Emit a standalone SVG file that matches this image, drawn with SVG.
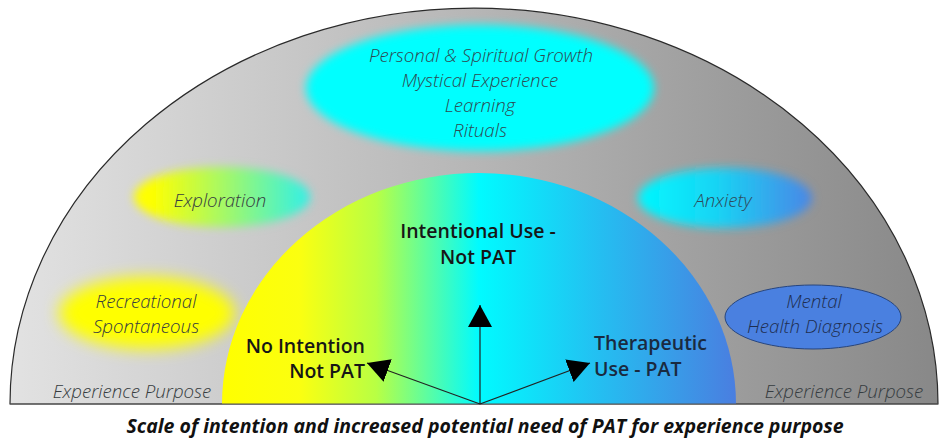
<svg xmlns="http://www.w3.org/2000/svg" width="941" height="442" viewBox="0 0 941 442">
<defs>
<style>
.lt{font-family:"Open Sans","Liberation Sans",sans-serif;font-style:italic;font-weight:300;font-size:18.7px;fill:#363c40;text-anchor:middle}
.bd{font-family:"Open Sans","Liberation Sans",sans-serif;font-weight:600;font-size:19.5px;fill:#161616}
.cap{font-family:"Open Sans","Liberation Sans",sans-serif;font-style:italic;font-weight:700;font-size:19.5px;fill:#111;text-anchor:middle}
.conn{stroke:#222;stroke-width:1.2;fill:none;marker-end:url(#ah)}
</style>
<linearGradient id="gOuter" x1="10" y1="0" x2="938" y2="0" gradientUnits="userSpaceOnUse">
<stop offset="0" stop-color="#e2e2e2"/>
<stop offset="0.5" stop-color="#b6b6b6"/>
<stop offset="1" stop-color="#888888"/>
</linearGradient>
<linearGradient id="gInner" x1="222" y1="0" x2="736" y2="0" gradientUnits="userSpaceOnUse">
<stop offset="0" stop-color="#ffff00"/>
<stop offset="0.15" stop-color="#fbff10"/>
<stop offset="0.3" stop-color="#b8ff44"/>
<stop offset="0.5" stop-color="#00fbff"/>
<stop offset="0.72" stop-color="#22c2f2"/>
<stop offset="1" stop-color="#4a7ee0"/>
</linearGradient>
<linearGradient id="gExpl" x1="0" y1="0" x2="1" y2="0">
<stop offset="0.1" stop-color="#ffff00"/>
<stop offset="0.55" stop-color="#9cf870"/>
<stop offset="1" stop-color="#30f0e8"/>
</linearGradient>
<linearGradient id="gAnx" x1="0" y1="0" x2="1" y2="0">
<stop offset="0" stop-color="#00f8ff"/>
<stop offset="0.45" stop-color="#18d4f4"/>
<stop offset="1" stop-color="#4a86e6"/>
</linearGradient>
<filter id="blur" x="-20%" y="-30%" width="140%" height="160%"><feGaussianBlur stdDeviation="5"/></filter>
<filter id="blur2" x="-20%" y="-40%" width="140%" height="180%"><feGaussianBlur stdDeviation="8"/></filter>
<marker id="ah" viewBox="0 0 22 24" refX="22" refY="12" markerWidth="22" markerHeight="24" markerUnits="userSpaceOnUse" orient="auto">
<path d="M0,0 L22,12 L0,24 Z" fill="#000"/>
</marker>
</defs>

<g id="outer">
<path d="M10,404 A464,396 0 0 1 938,404 Z" fill="url(#gOuter)" stroke="#2a2a2a" stroke-width="1.2"/>
</g>

<g id="inner">
<path d="M222,404 A257,231 0 0 1 736,404 Z" fill="url(#gInner)"/>
</g>
<line x1="10" y1="404" x2="938" y2="404" stroke="#555" stroke-width="1.2"/>

<g id="growth">
<ellipse cx="480" cy="88" rx="174" ry="63" fill="#00ffff" filter="url(#blur)"/>
<text class="lt" x="481" y="62" style="fill:#2e4a52">Personal &amp; Spiritual Growth</text>
<text class="lt" x="480" y="87" style="fill:#2e4a52">Mystical Experience</text>
<text class="lt" x="480" y="112" style="fill:#2e4a52">Learning</text>
<text class="lt" x="480" y="137" style="fill:#2e4a52">Rituals</text>
</g>

<g id="exploration">
<ellipse cx="222" cy="197" rx="88" ry="30" fill="url(#gExpl)" filter="url(#blur)"/>
<text class="lt" x="220" y="207">Exploration</text>
</g>

<g id="anxiety">
<ellipse cx="725" cy="198" rx="87" ry="30" fill="url(#gAnx)" filter="url(#blur)"/>
<text class="lt" x="723" y="207" style="fill:#2e4a5a">Anxiety</text>
</g>

<g id="recreational">
<ellipse cx="147" cy="313" rx="88" ry="36" fill="#ffff00" filter="url(#blur2)"/>
<text class="lt" x="146" y="308">Recreational</text>
<text class="lt" x="146" y="333">Spontaneous</text>
</g>

<g id="mental">
<ellipse cx="813" cy="317" rx="88" ry="32" fill="#4a80e0" stroke="#27457e" stroke-width="1"/>
<text class="lt" x="814" y="308" style="fill:#1e2e50">Mental</text>
<text class="lt" x="815" y="333" style="fill:#1e2e50">Health Diagnosis</text>
</g>

<g id="purpose-left">
<text class="lt" x="132" y="398">Experience Purpose</text>
</g>
<g id="purpose-right">
<text class="lt" x="844" y="398">Experience Purpose</text>
</g>

<g id="intentional">
<text class="bd" x="478" y="238" text-anchor="middle">Intentional Use -</text>
<text class="bd" x="478" y="264" text-anchor="middle">Not PAT</text>
</g>

<g id="no-intention">
<text class="bd" x="365" y="353" text-anchor="end">No Intention</text>
<text class="bd" x="365" y="378" text-anchor="end">Not PAT</text>
</g>

<g id="therapeutic">
<text class="bd" x="594" y="350" style="fill:#1a2a40">Therapeutic</text>
<text class="bd" x="594" y="376" style="fill:#1a2a40">Use - PAT</text>
</g>

<g id="connectors">
<line class="conn" x1="480" y1="404" x2="480" y2="305"/>
<line class="conn" x1="480" y1="404" x2="367" y2="363"/>
<line class="conn" x1="480" y1="404" x2="590" y2="363"/>
</g>

<g id="caption">
<text class="cap" x="485" y="433">Scale of intention and increased potential need of PAT for experience purpose</text>
</g>
</svg>
